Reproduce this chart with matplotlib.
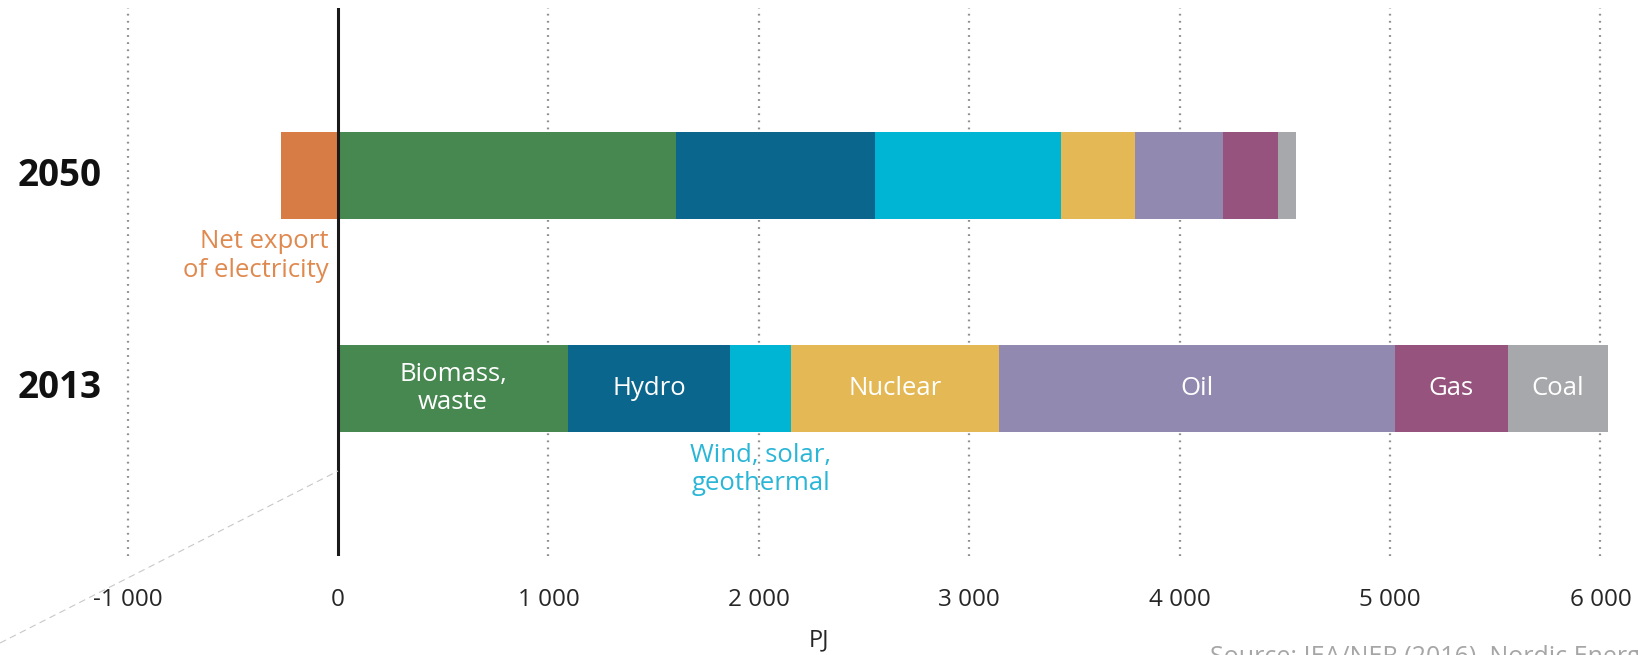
import matplotlib
matplotlib.use("Agg")
import matplotlib.pyplot as plt
from matplotlib.lines import Line2D
from matplotlib.transforms import blended_transform_factory

plt.rcParams["font.family"] = ["Open Sans", "DejaVu Sans"]

years = ["2013", "2050"]
sources = ["Biomass,\nwaste", "Hydro", "Wind, solar,\ngeothermal", "Nuclear", "Oil", "Gas", "Coal"]
values_2013 = [1093, 772, 289, 986, 1884, 536, 476]
values_2050 = [1607, 944, 886, 349, 420, 263, 86]
net_export_2050 = -271

colors = ["#478851", "#0B668D", "#00B4D4", "#E3B855", "#9189B0", "#96537D", "#A7A8AB"]
export_color = "#D77C45"

xticks = [-1000, 0, 1000, 2000, 3000, 4000, 5000, 6000]
xtick_labels = ["-1 000", "0", "1 000", "2 000", "3 000", "4 000", "5 000", "6 000"]

W, H = 1638, 655
fig = plt.figure(figsize=(W / 100, H / 100), dpi=100)

# axes spans whole width; 0 sits at x=338 px, 1000 PJ = 210.4 px
px_per_unit = 210.4 / 1000
x0_px = 338
ax_top, ax_bot = 8, 556
ax = fig.add_axes([0, 1 - ax_bot / H, 1, (ax_bot - ax_top) / H])
ax.set_xlim(-x0_px / px_per_unit, (W - x0_px) / px_per_unit)

# row spacing 213 px; 2013 centred at 388.5 px, 2050 at 175.5 px
row_px = 213
ax.set_ylim(-(ax_bot - 388.5) / row_px, 1 + (175.5 - ax_top) / row_px)

bar_h = 87 / row_px
rows = {0: values_2013, 1: values_2050}
for y, vals in rows.items():
    left = 0
    for v, c in zip(vals, colors):
        ax.barh(y, v, left=left, height=bar_h, color=c, edgecolor="none", zorder=2)
        left += v
ax.barh(1, net_export_2050, height=bar_h, color=export_color, edgecolor="none", zorder=2)

# grid
for t in xticks:
    if t == 0:
        ax.axvline(0, color="#1a1a1a", lw=2.2, zorder=4)
    else:
        ax.axvline(t, color="#8f8f8f", lw=1.6, dashes=(0.8, 2.4), zorder=1)

ax.set_xticks(xticks)
ax.set_xticklabels(xtick_labels, fontsize=17.5, color="#262626")
ax.tick_params(axis="x", length=0, pad=23)
ax.set_yticks([])
ax.set_xlabel("PJ", fontsize=17, color="#262626", labelpad=12)
for s in ax.spines.values():
    s.set_visible(False)

# year labels at the left edge
tr = blended_transform_factory(fig.transFigure, ax.transData)
for y, yr in enumerate(years):
    ax.text(0.062, y, yr, transform=tr, ha="right", va="center",
            fontsize=26.5, fontweight="bold", color="#111111")

# segment labels on the 2013 bar
left = 0
for i, (v, name) in enumerate(zip(values_2013, sources)):
    mid = left + v / 2
    left += v
    if i == 2:
        ax.text(mid, -bar_h / 2 - 0.05, name, ha="center", va="top",
                fontsize=18.5, color="#2AB6D6", linespacing=1.2, zorder=5)
    else:
        ax.text(mid, 0, name, ha="center", va="center", fontsize=18.5,
                color="white", linespacing=1.2, zorder=5)

ax.text(-45, 1 - bar_h / 2 - 0.045, "Net export\nof electricity", ha="right", va="top",
        fontsize=18.5, color="#E0894F", linespacing=1.25, zorder=5)

# faint dashed guide in the lower-left corner
fig.add_artist(Line2D([0, 338 / W], [1 - 643 / H, 1 - 471 / H], transform=fig.transFigure,
                      color="#c8c8c8", lw=0.8, dashes=(6, 4)))

fig.text(1210 / W, 1 - 645 / H, "Source: IEA/NER (2016), Nordic Energy Technology Perspectives 2016",
         ha="left", va="top", fontsize=18, color="#A6A6A6")

fig.savefig("out.png", dpi=100)
